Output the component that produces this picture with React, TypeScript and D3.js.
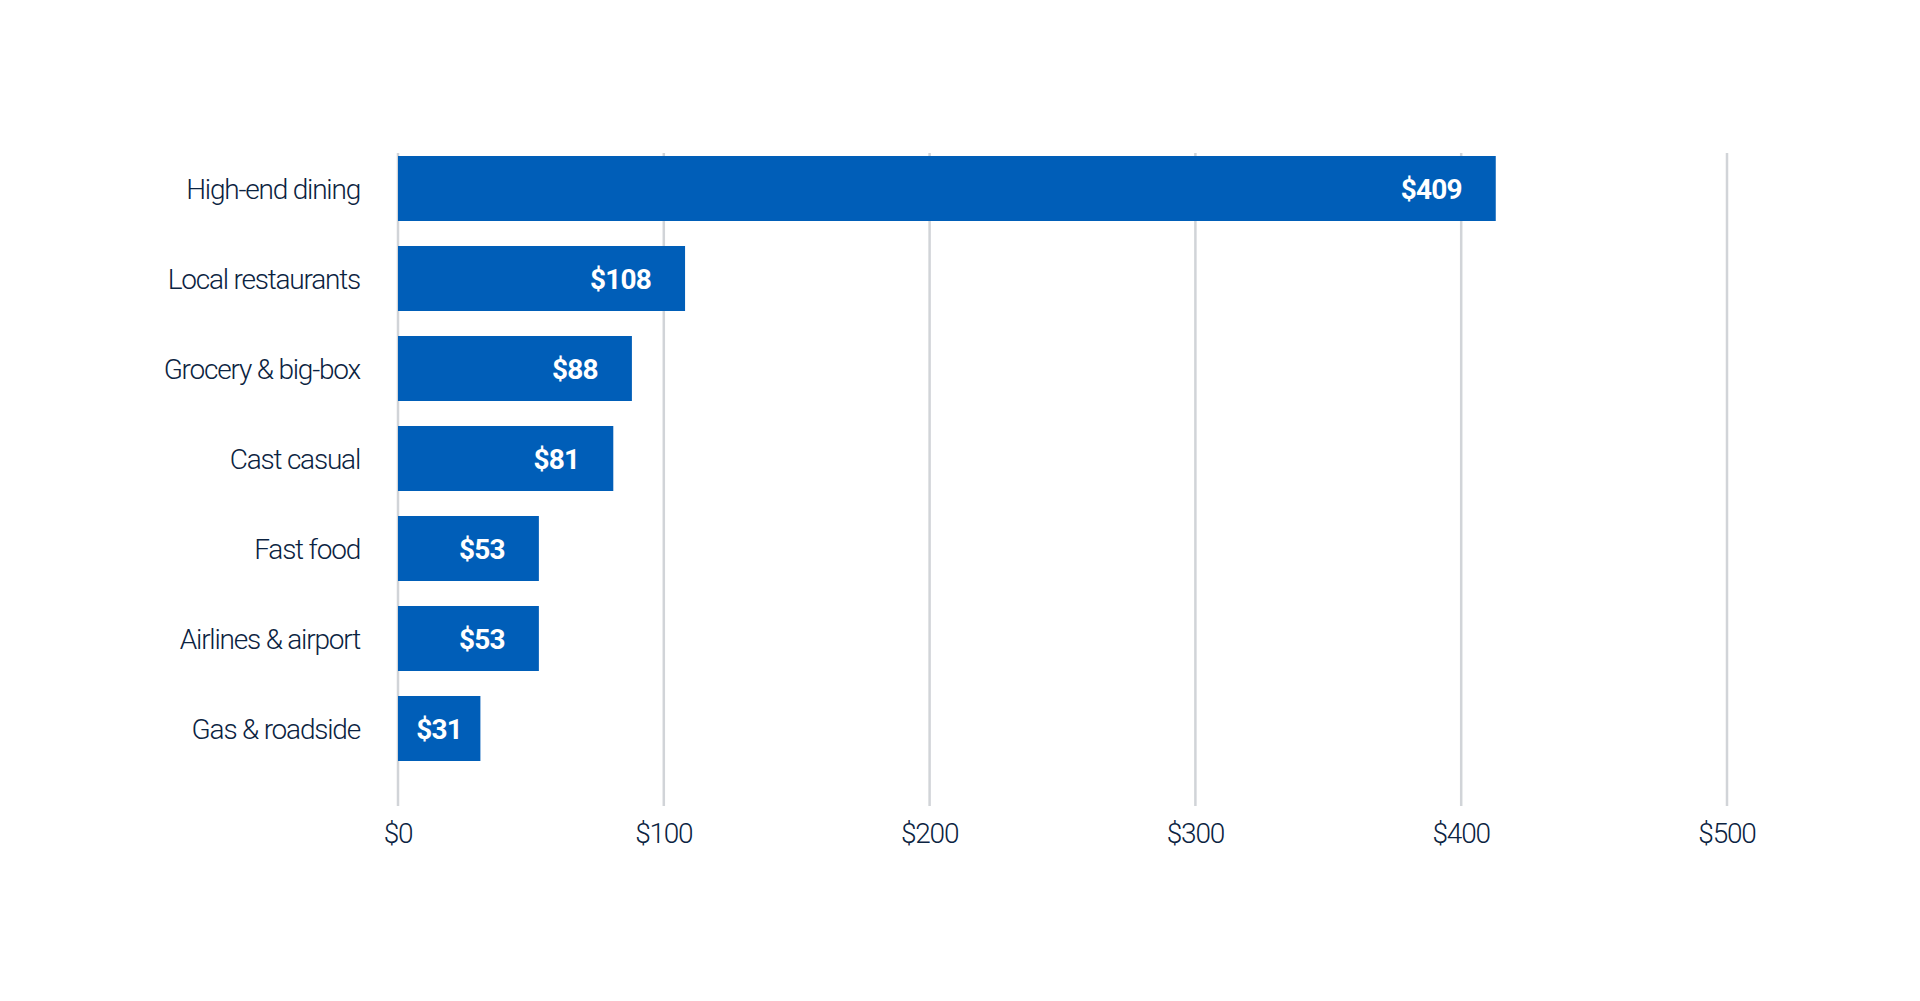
import React, { useEffect, useRef } from "react";
import { select, scaleLinear, scaleBand } from "d3";

const categories = [
  "High-end dining",
  "Local restaurants",
  "Grocery & big-box",
  "Cast casual",
  "Fast food",
  "Airlines & airport",
  "Gas & roadside",
];
// bar lengths (the first bar runs a bit past its label)
const values = [413, 108, 88, 81, 53, 53, 31];
const valueLabels = ["$409", "$108", "$88", "$81", "$53", "$53", "$31"];
const ticks = [0, 100, 200, 300, 400, 500];
const tickLabels = ["$0", "$100", "$200", "$300", "$400", "$500"];

const BLUE = "#005EB8";
const NAVY = "#0B2341";
const GRID = "#D1D4D8";
const FONT = "Roboto, 'Liberation Sans', sans-serif";

const App = () => {
  const svgRef = useRef(null);
  const width = 1920;
  const height = 1001;

  useEffect(() => {
    const svgEl = svgRef.current;
    const svg = select(svgEl);
    svg.selectAll("*").remove();

    const x = scaleLinear().domain([0, 500]).range([398, 1727]);
    const y = scaleBand()
      .domain(categories)
      .range([143.5, 773.5])
      .paddingInner(25 / 90)
      .paddingOuter(12.5 / 90);

    // grid lines
    svg
      .append("g")
      .selectAll("line")
      .data(ticks)
      .join("line")
      .attr("x1", (d) => x(d))
      .attr("x2", (d) => x(d))
      .attr("y1", 153)
      .attr("y2", 806)
      .attr("stroke", GRID)
      .attr("stroke-width", 2.5);

    // tick labels
    svg
      .append("g")
      .selectAll("text")
      .data(ticks)
      .join("text")
      .attr("x", (d) => x(d))
      .attr("y", 843)
      .attr("text-anchor", "middle")
      .style("font-family", FONT)
      .style("font-size", "28px")
      .style("font-weight", 300)
      .style("letter-spacing", "-1.2px")
      .style("fill", NAVY)
      .text((d, i) => tickLabels[i]);

    const rows = categories.map((c, i) => ({ c, v: values[i], label: valueLabels[i] }));

    // bars
    svg
      .append("g")
      .selectAll("rect")
      .data(rows)
      .join("rect")
      .attr("x", x(0))
      .attr("y", (d) => y(d.c))
      .attr("width", (d) => x(d.v) - x(0))
      .attr("height", y.bandwidth())
      .style("fill", BLUE);

    // category labels
    svg
      .append("g")
      .selectAll("text")
      .data(rows)
      .join("text")
      .attr("x", x(0) - 38)
      .attr("y", (d) => y(d.c) + y.bandwidth() / 2)
      .attr("dy", "0.36em")
      .attr("text-anchor", "end")
      .style("font-family", FONT)
      .style("font-size", "28px")
      .style("font-weight", 300)
      .style("letter-spacing", "-1.2px")
      .style("fill", NAVY)
      .text((d) => d.c);

    // value labels inside the bars
    svg
      .append("g")
      .selectAll("text")
      .data(rows)
      .join("text")
      .attr("x", (d) => {
        const w = x(d.v) - x(0);
        return w < 120 ? x(0) + w / 2 : x(d.v) - 34;
      })
      .attr("y", (d) => y(d.c) + y.bandwidth() / 2)
      .attr("dy", "0.36em")
      .attr("text-anchor", (d) => (x(d.v) - x(0) < 120 ? "middle" : "end"))
      .style("font-family", FONT)
      .style("font-size", "28px")
      .style("font-weight", "bold")
      .style("letter-spacing", "-0.8px")
      .style("fill", "#ffffff")
      .text((d) => d.label);

    return () => {
      if (svgEl) {
        while (svgEl.firstChild) svgEl.removeChild(svgEl.firstChild);
      }
    };
  }, []);

  return (
    <div style={{ position: "absolute", left: 0, top: 0, background: "#fff" }}>
      <svg ref={svgRef} width={width} height={height} style={{ display: "block" }}></svg>
    </div>
  );
};

export default App;
